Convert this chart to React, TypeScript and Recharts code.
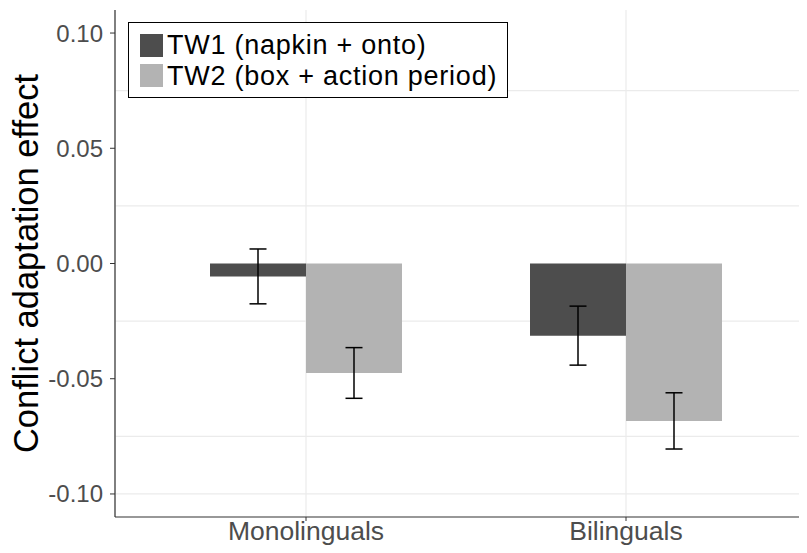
import React from 'react'
import {
  BarChart, Bar, XAxis, YAxis, CartesianGrid, ErrorBar, Legend,
} from 'recharts'

const groups = ['Monolinguals', 'Bilinguals']
const tw1Values = [-0.0056, -0.0313]
const tw1Errors = [0.0119, 0.0128]
const tw2Values = [-0.0475, -0.0683]
const tw2Errors = [0.011, 0.0122]
const yTicks = [-0.1, -0.05, 0, 0.05, 0.1]
const minorBreaks = [-0.075, -0.025, 0.025, 0.075]

const seriesNames = ['TW1 (napkin + onto)', 'TW2 (box + action period)']

const data = groups.map((g, i) => ({
  group: g,
  tw1: tw1Values[i],
  tw1Err: tw1Errors[i],
  tw2: tw2Values[i],
  tw2Err: tw2Errors[i],
}))

const FONT = '"Liberation Sans", Arial, sans-serif'
const GRID = '#EBEBEB'
const AXIS = '#333333'
const TEXT = '#4D4D4D'

function LegendBox(props: any) {
  const items = props.payload || []
  return (
    <div style={{
      border: '1.5px solid #000', background: '#fff', padding: '7px 10px 6px 11px',
      fontFamily: FONT, fontSize: 27, letterSpacing: 0.75, color: '#000', width: 357,
    }}>
      {items.map((it: any) => (
        <div key={it.value} style={{ display: 'flex', alignItems: 'center', height: 30.5, whiteSpace: 'nowrap' }}>
          <span style={{ display: 'block', width: 23, height: 23, background: it.color, marginRight: 4, flex: 'none' }} />
          <span style={{ display: 'block', lineHeight: '30.5px', height: 30.5 }}>{it.value}</span>
        </div>
      ))}
    </div>
  )
}

function YLabel(props: any) {
  const vb = props.viewBox || { x: 0, y: 2, width: 107, height: 507 }
  const cx = vb.x + 30
  const cy = vb.y + vb.height / 2
  return (
    <text x={cx} y={cy} transform={`rotate(-90, ${cx}, ${cy})`} textAnchor="middle"
      fontFamily={FONT} fontSize={34.5} fill="#000">
      Conflict adaptation effect
    </text>
  )
}

export default function App() {
  return (
    <div style={{ width: 799, height: 537, overflowX: 'clip', overflowY: 'visible' }}>
      <BarChart width={812} height={545} data={data}
        margin={{ top: 2, right: 1, bottom: 0, left: 0 }}
        barCategoryGap="20%" barGap={0}>
        <CartesianGrid stroke={GRID} strokeWidth={1.2}
          horizontalValues={[...yTicks, ...minorBreaks]} />
        <XAxis dataKey="group" height={36} padding={{ left: 31, right: 33 }}
          axisLine={{ stroke: AXIS, strokeWidth: 1.2 }} tickLine={{ stroke: AXIS }}
          tickSize={4} tickMargin={0}
          tick={{ fontSize: 26.5, fill: TEXT, fontFamily: FONT }} />
        <XAxis xAxisId="top" orientation="top" dataKey="group" height={0}
          tick={false} tickLine={false} axisLine={{ stroke: AXIS, strokeWidth: 1.2 }} />
        <YAxis width={107} domain={[-0.11, 0.11]} ticks={yTicks} type="number"
          allowDataOverflow
          tickFormatter={(v: number) => v.toFixed(2)}
          axisLine={{ stroke: AXIS, strokeWidth: 1.2 }} tickLine={{ stroke: AXIS }}
          tickSize={5} tickMargin={7}
          tick={{ fontSize: 24, fill: TEXT, fontFamily: FONT }}
          label={<YLabel />} />
        <Legend layout="vertical" align="center" verticalAlign="middle"
          content={<LegendBox />}
          wrapperStyle={{ left: 120, top: 14, width: 'auto', height: 'auto' }} />
        <Bar dataKey="tw1" name={seriesNames[0]} fill="#4D4D4D" isAnimationActive={false}>
          <ErrorBar dataKey="tw1Err" width={8.5} stroke="#000" strokeWidth={1.5} />
        </Bar>
        <Bar dataKey="tw2" name={seriesNames[1]} fill="#B3B3B3" isAnimationActive={false}>
          <ErrorBar dataKey="tw2Err" width={8.5} stroke="#000" strokeWidth={1.5} />
        </Bar>
      </BarChart>
    </div>
  )
}
